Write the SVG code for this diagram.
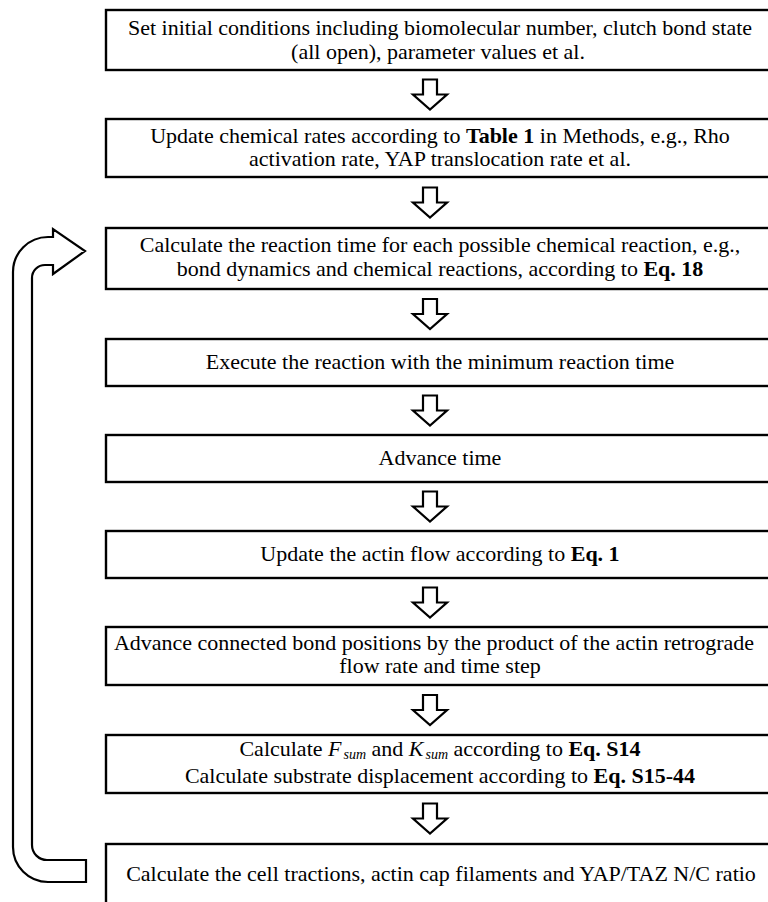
<svg xmlns="http://www.w3.org/2000/svg" width="768" height="902" viewBox="0 0 768 902">
<style>
.box{fill:#fff;stroke:#000;stroke-width:2.4}
.t{font-family:"Liberation Serif","Times New Roman",serif;font-size:22px;fill:#000;text-anchor:middle}
.b{font-weight:bold}
.i{font-style:italic}
.sub{font-style:italic;font-size:14px}
.arr{fill:#fff;stroke:#000;stroke-width:2.2;stroke-linejoin:miter}
</style>
<defs>
<path id="down" d="M-7,-15 H7 V0 H17 L0,15 L-17,0 H-7 Z"/>
</defs>
<rect width="768" height="902" fill="#fff"/>
<g id="connectors">
<use href="#down" class="arr" x="430" y="94.5"/>
<use href="#down" class="arr" x="430" y="202.5"/>
<use href="#down" class="arr" x="430" y="314"/>
<use href="#down" class="arr" x="430" y="410.5"/>
<use href="#down" class="arr" x="430" y="506.5"/>
<use href="#down" class="arr" x="430" y="602.5"/>
<use href="#down" class="arr" x="430" y="710"/>
<use href="#down" class="arr" x="430" y="818.5"/>
<path class="arr" d="M86,860 H47 A15,15 0 0 1 32,845 V278 A13,13 0 0 1 45,265 H53 V274 L85,251 L53,229 V237 H48 A35,35 0 0 0 13,272 V847 A35,35 0 0 0 48,882 H86 Z"/>
</g>
<g id="n1">
<rect class="box" x="106" y="10" width="670" height="60"/>
<text class="t" x="440" y="35">Set initial conditions including biomolecular number, clutch bond state</text>
<text class="t" x="438" y="59">(all open), parameter values et al.</text>
</g>
<g id="n2">
<rect class="box" x="106" y="119" width="670" height="58"/>
<text class="t" x="440" y="143">Update chemical rates according to <tspan class="b">Table 1</tspan> in Methods, e.g., Rho</text>
<text class="t" x="440" y="166">activation rate, YAP translocation rate et al.</text>
</g>
<g id="n3">
<rect class="box" x="106" y="228" width="670" height="61"/>
<text class="t" x="440" y="252">Calculate the reaction time for each possible chemical reaction, e.g.,</text>
<text class="t" x="440" y="276">bond dynamics and chemical reactions, according to <tspan class="b">Eq. 18</tspan></text>
</g>
<g id="n4">
<rect class="box" x="106" y="339" width="670" height="47"/>
<text class="t" x="440" y="369">Execute the reaction with the minimum reaction time</text>
</g>
<g id="n5">
<rect class="box" x="106" y="435" width="670" height="47"/>
<text class="t" x="440" y="465">Advance time</text>
</g>
<g id="n6">
<rect class="box" x="106" y="531" width="670" height="47"/>
<text class="t" x="440" y="561">Update the actin flow according to <tspan class="b">Eq. 1</tspan></text>
</g>
<g id="n7">
<rect class="box" x="106" y="627" width="670" height="58"/>
<text class="t" x="434" y="650">Advance connected bond positions by the product of the actin retrograde</text>
<text class="t" x="440" y="673">flow rate and time step</text>
</g>
<g id="n8">
<rect class="box" x="106" y="735" width="670" height="58"/>
<text class="t" x="440" y="756">Calculate <tspan class="i">F</tspan><tspan class="sub" dx="2" dy="3">sum</tspan><tspan dy="-3"> and </tspan><tspan class="i">K</tspan><tspan class="sub" dx="2" dy="3">sum</tspan><tspan dy="-3"> according to </tspan><tspan class="b">Eq. S14</tspan></text>
<text class="t" x="440" y="783">Calculate substrate displacement according to <tspan class="b">Eq. S15-44</tspan></text>
</g>
<g id="n9">
<rect class="box" x="106" y="844" width="670" height="70"/>
<text class="t" x="441" y="881">Calculate the cell tractions, actin cap filaments and YAP/TAZ N/C ratio</text>
</g>
</svg>
